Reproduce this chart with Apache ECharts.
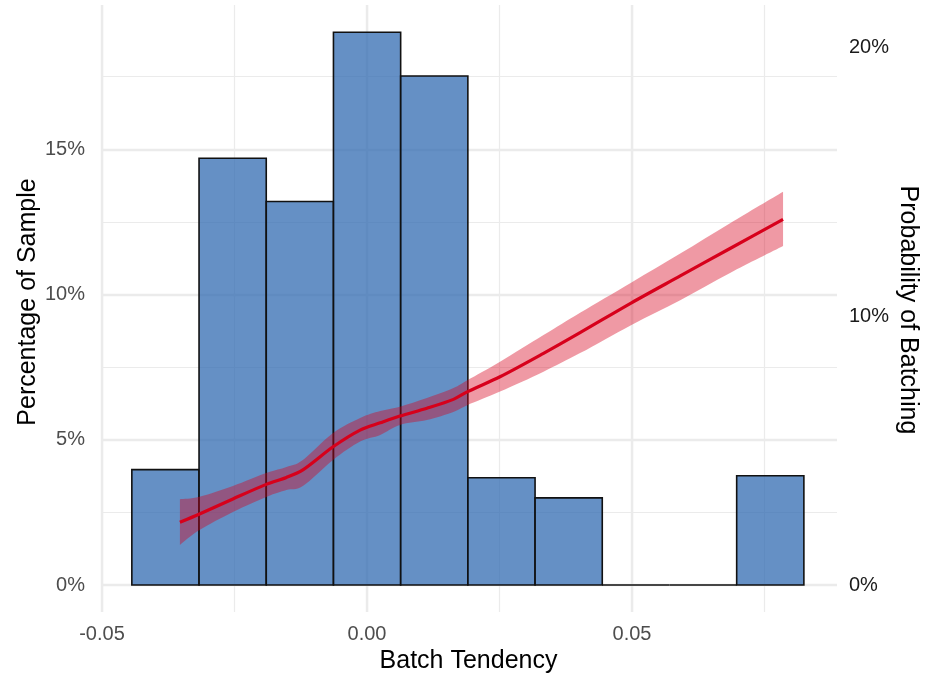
<!DOCTYPE html>
<html>
<head>
<meta charset="utf-8">
<script src="https://cdn.jsdelivr.net/npm/echarts@6/dist/echarts.min.js"></script>
<style>
  html, body { margin: 0; padding: 0; background: #fff; }
  #chart { width: 925px; height: 677px; }
</style>
</head>
<body>
<div id="chart"></div>
<script>
// histogram bins (batch tendency) and share of sample, in %
const binEdges = [-0.04437, -0.03169, -0.01901, -0.00633, 0.00635, 0.01903, 0.03171, 0.04439, 0.05707, 0.06975, 0.08243];
const binPct = [3.97, 14.69, 13.20, 19.03, 17.52, 3.69, 3.00, 0, 0, 3.76];

// fitted probability of batching (%) with confidence band
const fitX = [-0.0353, -0.0316, -0.0253, -0.0189, -0.0152, -0.0121, -0.0064, -0.0013, 0.0025, 0.0062,
  0.0113, 0.0163, 0.0190, 0.0251, 0.0333, 0.0402, 0.0499, 0.0591, 0.0685, 0.0785];
const fitPct = [2.33, 2.64, 3.20, 3.75, 4.00, 4.28, 5.14, 5.76, 6.03, 6.28,
  6.57, 6.90, 7.19, 7.74, 8.61, 9.38, 10.49, 11.49, 12.51, 13.59];
const fitLow = [1.49, 2.04, 2.71, 3.28, 3.53, 3.68, 4.65, 5.33, 5.58, 5.95,
  6.13, 6.43, 6.69, 7.19, 7.93, 8.62, 9.67, 10.59, 11.60, 12.60];
const fitHigh = [3.19, 3.28, 3.68, 4.17, 4.39, 4.65, 5.65, 6.21, 6.47, 6.63,
  6.95, 7.32, 7.62, 8.30, 9.29, 10.12, 11.25, 12.32, 13.45, 14.62];

const fontFamily = '"Liberation Sans", Arial, sans-serif';
const gridColor = '#ebebeb';
const xMin = -0.05;
const xMax = -0.05 + 735 / 5300;

const chart = echarts.init(document.getElementById('chart'), null, { renderer: 'canvas' });

function majorX(gridIndex, withLabels) {
  return {
    type: 'value', gridIndex, min: xMin, max: xMax, interval: 0.05,
    axisLine: { show: false }, axisTick: { show: false },
    axisLabel: {
      show: withLabels, showMaxLabel: false, margin: 12, fontSize: 20, color: '#4d4d4d',
      formatter: v => (Math.abs(v) < 1e-9 ? 0 : v).toFixed(2)
    },
    splitLine: { show: true, showMaxLine: false, lineStyle: { color: gridColor, width: 2.4 } }
  };
}
function minorX(gridIndex) {
  return {
    type: 'value', gridIndex, position: 'top', min: xMin, max: xMax, interval: 0.025,
    axisLine: { show: false }, axisTick: { show: false }, axisLabel: { show: false },
    splitLine: { show: true, showMaxLine: false, lineStyle: { color: gridColor, width: 1.2 } }
  };
}

// catmull-rom through pixel points -> svg cubic segments
function curveTo(pts) {
  let d = '';
  for (let i = 0; i < pts.length - 1; i++) {
    const p0 = pts[i - 1] || pts[i], p1 = pts[i], p2 = pts[i + 1], p3 = pts[i + 2] || p2;
    const c1 = [p1[0] + (p2[0] - p0[0]) / 6, p1[1] + (p2[1] - p0[1]) / 6];
    const c2 = [p2[0] - (p3[0] - p1[0]) / 6, p2[1] - (p3[1] - p1[1]) / 6];
    d += ' C' + c1.join(' ') + ' ' + c2.join(' ') + ' ' + p2.join(' ');
  }
  return d;
}

const option = {
  animation: false,
  backgroundColor: '#fff',
  textStyle: { fontFamily },
  grid: [
    { left: 102, right: 88, top: 5, bottom: 92 },
    { left: 102, right: 88, top: 585, bottom: 65 }
  ],
  xAxis: [majorX(0, false), minorX(0), majorX(1, true), minorX(1)],
  yAxis: [
    {
      type: 'value', gridIndex: 0, position: 'left', min: 0, max: 580 / 29.05, interval: 5,
      axisLine: { show: false }, axisTick: { show: false },
      axisLabel: { showMaxLabel: false, formatter: '{value}%', fontSize: 20, color: '#4d4d4d', margin: 17 },
      splitLine: { show: true, showMaxLine: false, lineStyle: { color: gridColor, width: 2.4 } },
      minorTick: { show: false, splitNumber: 2 },
      minorSplitLine: { show: true, lineStyle: { color: gridColor, width: 1.2 } }
    },
    {
      type: 'value', gridIndex: 0, position: 'right', min: 0, max: 580 / 26.9, interval: 10,
      axisLine: { show: false }, axisTick: { show: false },
      axisLabel: { showMaxLabel: false, formatter: '{value}%', fontSize: 20, color: '#1a1a1a', margin: 12 },
      splitLine: { show: false }
    },
    { type: 'value', gridIndex: 1, min: 0, max: 1, show: false }
  ],
  graphic: [
    {
      type: 'text', x: 468.5, y: 661,
      style: { text: 'Batch Tendency', font: '25px ' + fontFamily, fill: '#000', align: 'center', verticalAlign: 'middle' }
    },
    {
      type: 'text', x: 28, y: 302, rotation: Math.PI / 2,
      style: { text: 'Percentage of Sample', font: '25px ' + fontFamily, fill: '#000', align: 'center', verticalAlign: 'middle' }
    },
    {
      type: 'text', x: 908, y: 310, rotation: -Math.PI / 2,
      style: { text: 'Probability of Batching', font: '25px ' + fontFamily, fill: '#000', align: 'center', verticalAlign: 'middle' }
    }
  ],
  series: [
    {
      type: 'custom', xAxisIndex: 0, yAxisIndex: 0, z: 2,
      data: binPct.map((v, i) => [binEdges[i], binEdges[i + 1], v]),
      encode: { x: [0, 1], y: 2 },
      renderItem: function (params, api) {
        const top = api.coord([api.value(0), api.value(2)]);
        const base = api.coord([api.value(1), 0]);
        return {
          type: 'rect',
          shape: { x: top[0], y: top[1], width: base[0] - top[0], height: base[1] - top[1] },
          style: { fill: 'rgba(50,107,178,0.75)', stroke: '#111', lineWidth: 1.6 }
        };
      }
    },
    {
      // confidence band, one closed shape
      type: 'custom', xAxisIndex: 0, yAxisIndex: 1, z: 3, silent: true,
      data: [[fitX[0], fitPct[0]]],
      renderItem: function (params, api) {
        const upper = fitX.map((x, i) => api.coord([x, fitHigh[i]]));
        const lower = fitX.map((x, i) => api.coord([x, fitLow[i]])).reverse();
        const d = 'M' + upper[0].join(' ') + curveTo(upper) +
          ' L' + lower[0].join(' ') + curveTo(lower) + ' Z';
        return {
          type: 'path',
          shape: { pathData: d },
          style: { fill: 'rgba(215,0,27,0.4)' }
        };
      }
    },
    {
      type: 'line', xAxisIndex: 0, yAxisIndex: 1, z: 4,
      symbol: 'none', smooth: 0.3,
      lineStyle: { color: '#d7001b', width: 3.2 },
      data: fitX.map((x, i) => [x, fitPct[i]])
    },
    { type: 'line', xAxisIndex: 2, yAxisIndex: 2, data: [] }
  ]
};

chart.setOption(option);
</script>
</body>
</html>
